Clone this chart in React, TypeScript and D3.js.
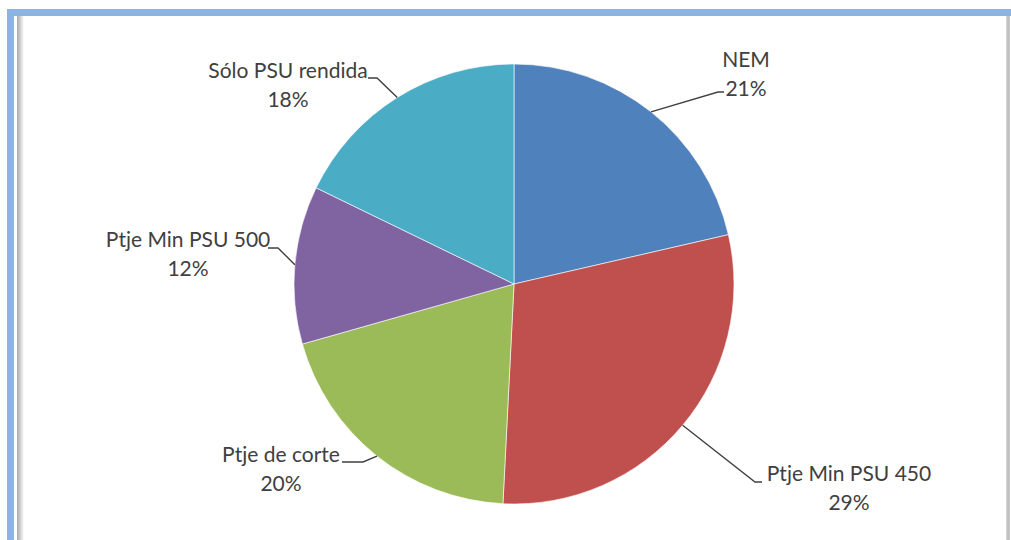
import React from "react";
import * as d3 from "d3";

const categories = ["NEM", "Ptje Min PSU 450", "Ptje de corte", "Ptje Min PSU 500", "Sólo PSU rendida"];
const values = [21.4, 29.4, 19.8, 11.6, 17.8];
const colors = ["#4F81BD", "#C0504D", "#9BBB59", "#8064A2", "#4BACC6"];

// label centre offsets (relative to pie centre) and leader elbow offsets
const labelPos: [number, number][] = [
  [232, -217],
  [335, 197],
  [-233, 178],
  [-326, -37],
  [-226, -206],
];
const elbowPos: [number, number][] = [
  [204, -192],
  [241, 198],
  [-151, 178],
  [-236, -36],
  [-137, -206],
];
const elbowEnd: [number, number][] = [
  [210, -192],
  [248, 198],
  [-172, 178],
  [-246, -36],
  [-146, -206],
];

const W = 1011;
const H = 540;
const cx = 514;
const cy = 284;
const R = 220;

export default function App() {
  const total = d3.sum(values);
  const pie = d3
    .pie<number>()
    .sort(null)
    .value((d) => d);
  const arcs = pie(values);
  const arc = d3.arc<d3.PieArcDatum<number>>().innerRadius(0).outerRadius(R);
  const font = "Lato, 'Open Sans', sans-serif";
  return (
    <svg
      width={W}
      height={H}
      style={{ position: "absolute", left: 0, top: 0, display: "block" }}
    >
      <defs>
        <linearGradient id="shadeL" x1="0" x2="1" y1="0" y2="0">
          <stop offset="0" stopColor="#a8a8a8" />
          <stop offset="0.4" stopColor="#c8c8c8" />
          <stop offset="1" stopColor="#ffffff" />
        </linearGradient>
        <linearGradient id="shadeR" x1="0" x2="1" y1="0" y2="0">
          <stop offset="0" stopColor="#e0e0e0" />
          <stop offset="0.5" stopColor="#b8b8b8" />
          <stop offset="1" stopColor="#d0d0d0" />
        </linearGradient>
      </defs>
      <rect x={0} y={0} width={W} height={H} fill="#ffffff" />
      <rect x={7} y={9} width={W - 7} height={7} fill="#8DB3E2" />
      <rect x={7} y={9} width={7} height={H - 9} fill="#8DB3E2" />
      <rect x={17} y={16} width={7} height={H - 16} fill="url(#shadeL)" />
      <rect x={1006} y={16} width={4} height={H - 16} fill="url(#shadeR)" />
      <g transform={`translate(${cx},${cy})`}>
        {arcs.map((a, i) => (
          <path
            key={categories[i]}
            d={arc(a) || ""}
            fill={colors[i]}
            stroke="#ffffff"
            strokeOpacity={0.6}
            strokeWidth={1}
          />
        ))}
        {arcs.map((a, i) => {
          const mid = (a.startAngle + a.endAngle) / 2;
          const px = R * Math.sin(mid);
          const py = -R * Math.cos(mid);
          const pts = [
            [px, py],
            elbowPos[i],
            elbowEnd[i],
          ];
          return (
            <polyline
              key={"l" + i}
              points={pts.map((p) => p.join(",")).join(" ")}
              fill="none"
              stroke="#404040"
              strokeWidth={1.4}
            />
          );
        })}
        {arcs.map((a, i) => {
          const [lx, ly] = labelPos[i];
          const pct = Math.round((values[i] / total) * 100) + "%";
          return (
            <text
              key={"t" + i}
              x={lx}
              y={ly}
              textAnchor="middle"
              fontFamily={font}
              fontSize={21}
              fill="#404040"
            >
              <tspan x={lx} dy={0}>
                {categories[i]}
              </tspan>
              <tspan x={lx} dy={29}>
                {pct}
              </tspan>
            </text>
          );
        })}
      </g>
    </svg>
  );
}
